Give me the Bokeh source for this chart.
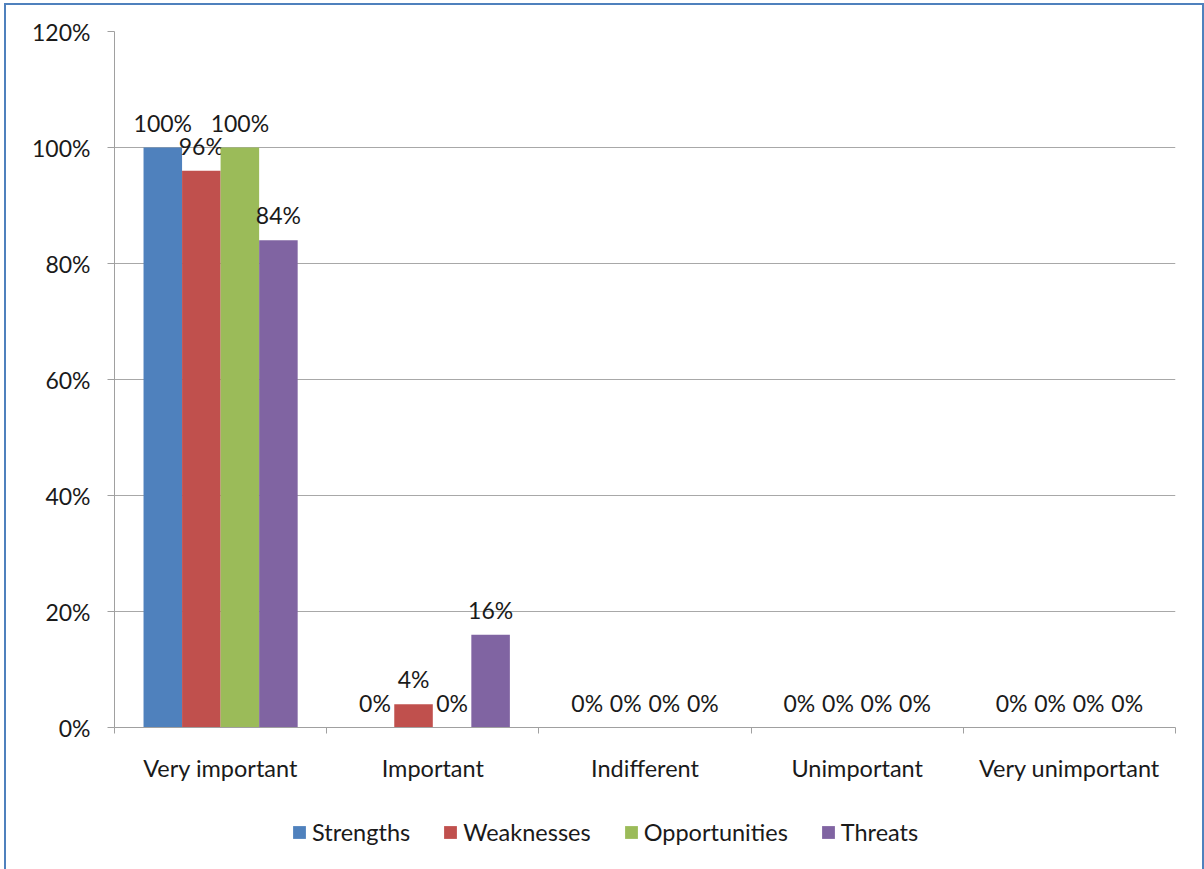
from bokeh.plotting import figure
from bokeh.layouts import column
from bokeh.models import FixedTicker, Legend, LegendItem, ColumnDataSource, Range1d
from bokeh.core.properties import value
from bokeh.embed import file_html
from bokeh.resources import INLINE

categories = ["Very important", "Important", "Indifferent", "Unimportant", "Very unimportant"]
series_names = ["Strengths", "Weaknesses", "Opportunities", "Threats"]
strengths = [1.00, 0.00, 0.00, 0.00, 0.00]
weaknesses = [0.96, 0.04, 0.00, 0.00, 0.00]
opportunities = [1.00, 0.00, 0.00, 0.00, 0.00]
threats = [0.84, 0.16, 0.00, 0.00, 0.00]
y_ticks = [0.0, 0.2, 0.4, 0.6, 0.8, 1.0, 1.2]
y_tick_labels = ["0%", "20%", "40%", "60%", "80%", "100%", "120%"]
colors = ["#4f81bd", "#c0504d", "#9bbb59", "#8064a2"]

FONT = "Lato"
FS = "23px"
series = [strengths, weaknesses, opportunities, threats]
bar_w = 0.1816

p = figure(width=1196, height=800, output_backend="svg", toolbar_location=None,
           x_range=Range1d(0, 5), y_range=Range1d(0, 1.2),
           min_border_left=108, min_border_right=27, min_border_top=26, min_border_bottom=78)
p.outline_line_color = None
p.background_fill_color = "white"
p.border_fill_color = "white"

# legend-only strip below the chart
lg = figure(width=1196, height=66, output_backend="svg", toolbar_location=None,
            x_range=Range1d(0, 1), y_range=Range1d(0, 1),
            min_border_left=0, min_border_right=0, min_border_top=0, min_border_bottom=0)
lg.axis.visible = False
lg.grid.visible = False
lg.outline_line_color = None
lg.border_fill_color = "white"

items = []
for k, (name, vals, col) in enumerate(zip(series_names, series, colors)):
    xs = [i + 0.5 + (k - 1.5) * bar_w for i in range(len(categories))]
    src = ColumnDataSource(dict(x=xs, top=vals, lab=["%d%%" % round(v * 100) for v in vals]))
    p.vbar(x="x", top="top", width=bar_w, source=src, fill_color=col, line_color=None)
    p.text(x="x", y="top", text="lab", source=src, text_font=value(FONT), text_font_size=FS,
           text_align="center", text_baseline="alphabetic", y_offset=-25, text_color="#1a1a1a")
    # legend swatch renderer (its single bar lies outside the strip's visible range)
    r = lg.vbar(x=[-10], top=[0], width=0.1, fill_color=col, line_color=None)
    items.append(LegendItem(label=name, renderers=[r]))

# y axis
p.yaxis.ticker = FixedTicker(ticks=y_ticks)
p.yaxis.major_label_overrides = {t: l for t, l in zip(y_ticks, y_tick_labels)}
p.yaxis.major_label_text_font = FONT
p.yaxis.major_label_text_font_size = FS
p.yaxis.major_label_text_color = "#1a1a1a"
p.yaxis.major_tick_out = 7
p.yaxis.major_tick_in = 0
p.yaxis.minor_tick_line_color = None
p.yaxis.major_label_standoff = 17
p.yaxis.axis_line_color = "#a0a0a0"
p.yaxis.major_tick_line_color = "#a0a0a0"
p.ygrid.grid_line_color = "#a8a8a8"
p.ygrid.ticker = FixedTicker(ticks=y_ticks)

# x axis
centers = [i + 0.5 for i in range(len(categories))]
bounds = [float(i) for i in range(len(categories) + 1)]
p.xaxis.ticker = FixedTicker(ticks=centers, minor_ticks=bounds)
p.xaxis.major_label_overrides = {c: l for c, l in zip(centers, categories)}
p.xaxis.major_label_text_font = FONT
p.xaxis.major_label_text_font_size = "23.5px"
p.xaxis.major_label_text_color = "#1a1a1a"
p.xaxis.major_tick_line_color = None
p.xaxis.major_tick_out = 6
p.xaxis.major_tick_in = 0
p.xaxis.minor_tick_line_color = "#a0a0a0"
p.xaxis.minor_tick_out = 6
p.xaxis.minor_tick_in = 0
p.xaxis.major_label_standoff = 20
p.xaxis.axis_line_color = "#a0a0a0"
p.xgrid.visible = False

legend = Legend(items=items, orientation="horizontal", location=(177, 25),
                glyph_width=16, glyph_height=16, label_text_font=FONT, label_text_font_size="23.5px",
                label_text_color="#1a1a1a", label_standoff=5, spacing=32, padding=0, margin=0,
                border_line_color=None, background_fill_alpha=0, label_height=22)
lg.add_layout(legend, "center")

layout = column(p, lg, spacing=0)
layout.styles = {"border-left": "2px solid #4f81bd", "border-top": "2px solid #4f81bd",
                 "border-right": "2px solid #4f81bd", "margin-left": "4px", "margin-top": "3px"}

open("out.html", "w").write(file_html(layout, INLINE))
